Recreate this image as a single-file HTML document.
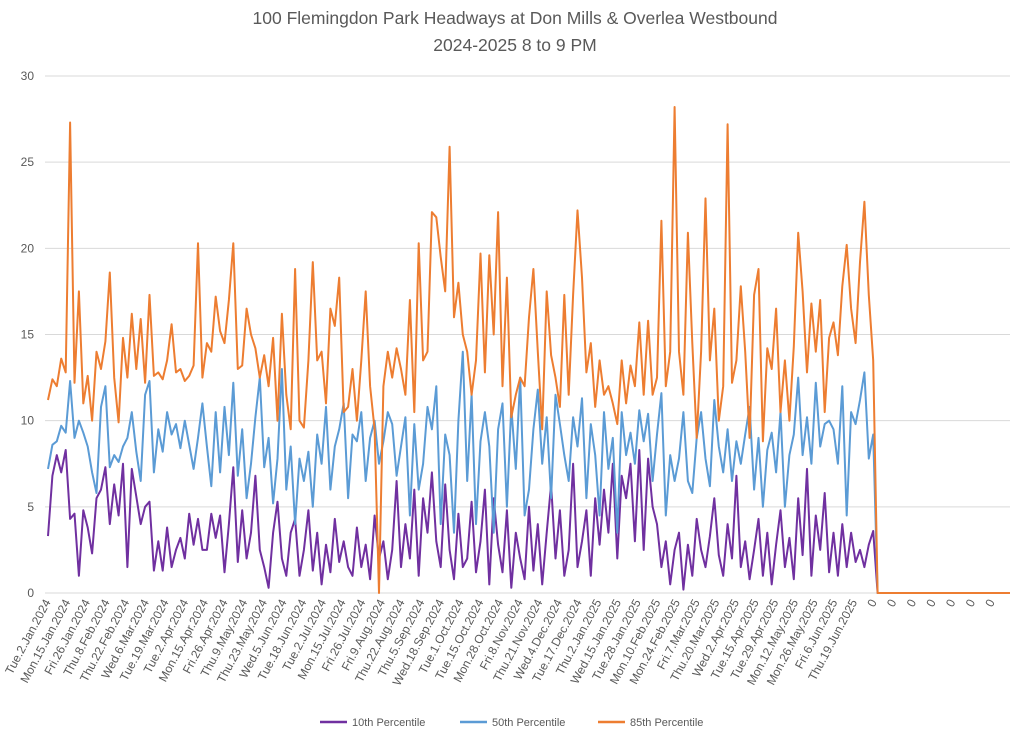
<!DOCTYPE html>
<html><head><meta charset="utf-8"><style>
body{margin:0;background:#fff;}
svg{display:block;font-family:"Liberation Sans",sans-serif;}
</style></head><body>
<svg id="chart" width="1024" height="735" viewBox="0 0 1024 735" xmlns="http://www.w3.org/2000/svg">
<text x="515" y="24" text-anchor="middle" font-size="17.5" fill="#595959">100 Flemingdon Park Headways at Don Mills &amp; Overlea Westbound</text>
<text x="515" y="51" text-anchor="middle" font-size="17.5" fill="#595959">2024-2025 8 to 9 PM</text>
<g id="grid"></g><g id="yt"></g><g id="xt"></g><g id="series"></g>
<g>
<line x1="320" y1="722" x2="347" y2="722" stroke="#7030a0" stroke-width="2.5"/>
<text x="352" y="726" font-size="11" fill="#595959">10th Percentile</text>
<line x1="460" y1="722" x2="487" y2="722" stroke="#5b9bd5" stroke-width="2.5"/>
<text x="492" y="726" font-size="11" fill="#595959">50th Percentile</text>
<line x1="598" y1="722" x2="625" y2="722" stroke="#ed7d31" stroke-width="2.5"/>
<text x="630" y="726" font-size="11" fill="#595959">85th Percentile</text>
</g>
</svg>
<script>
const yTicks=[0,5,10,15,20,25,30];
const xLabels=["Tue.2.Jan.2024","Mon.15.Jan.2024","Fri.26.Jan.2024","Thu.8.Feb.2024","Thu.22.Feb.2024","Wed.6.Mar.2024","Tue.19.Mar.2024","Tue.2.Apr.2024","Mon.15.Apr.2024","Fri.26.Apr.2024","Thu.9.May.2024","Thu.23.May.2024","Wed.5.Jun.2024","Tue.18.Jun.2024","Tue.2.Jul.2024","Mon.15.Jul.2024","Fri.26.Jul.2024","Fri.9.Aug.2024","Thu.22.Aug.2024","Thu.5.Sep.2024","Wed.18.Sep.2024","Tue.1.Oct.2024","Tue.15.Oct.2024","Mon.28.Oct.2024","Fri.8.Nov.2024","Thu.21.Nov.2024","Wed.4.Dec.2024","Tue.17.Dec.2024","Thu.2.Jan.2025","Wed.15.Jan.2025","Tue.28.Jan.2025","Mon.10.Feb.2025","Mon.24.Feb.2025","Fri.7.Mar.2025","Thu.20.Mar.2025","Wed.2.Apr.2025","Tue.15.Apr.2025","Tue.29.Apr.2025","Mon.12.May.2025","Mon.26.May.2025","Fri.6.Jun.2025","Thu.19.Jun.2025","0","0","0","0","0","0","0"];
const p10=[3.3,6.8,8.0,7.0,8.3,4.3,4.6,1.0,4.8,3.8,2.3,5.5,6.0,7.3,4.0,6.3,4.5,7.5,1.5,7.2,5.6,4.0,5.0,5.3,1.3,3.0,1.3,3.8,1.5,2.5,3.2,2.0,4.6,2.8,4.3,2.5,2.5,4.6,3.2,4.5,1.2,4.0,7.3,1.8,4.8,2.0,3.5,6.8,2.5,1.5,0.3,3.5,5.3,2.0,1.0,3.5,4.3,1.0,2.5,4.8,1.3,3.5,0.5,2.8,1.2,4.3,1.8,3.0,1.5,1.0,3.8,1.5,2.8,0.8,4.5,2.0,3.0,0.8,2.5,6.5,1.5,4.0,2.0,6.0,1.0,5.5,3.5,7.0,3.0,1.5,6.3,2.5,0.8,4.6,1.5,2.0,5.3,1.2,3.0,6.0,0.5,5.5,2.8,1.2,4.8,0.3,3.5,2.0,0.8,5.0,1.3,4.0,0.5,3.5,6.3,2.0,4.8,1.0,2.5,7.5,1.5,3.0,4.8,1.0,5.5,2.8,6.0,3.5,7.5,2.0,6.8,5.5,7.5,3.0,8.3,2.5,7.8,5.0,4.0,1.5,3.0,0.5,2.5,3.5,0.2,2.8,1.0,4.3,2.5,1.5,3.3,5.5,2.2,1.0,4.0,2.0,6.8,1.5,3.0,0.8,2.5,4.3,1.0,3.5,0.5,2.8,4.8,1.5,3.2,0.8,5.5,2.2,7.2,1.0,4.5,2.5,5.8,1.2,3.5,1.0,4.0,1.5,3.5,1.8,2.5,1.5,2.8,3.6,0,0,0,0,0,0,0,0,0,0,0,0,0,0,0,0,0,0,0,0,0,0,0,0,0,0,0,0,0,0,0];
const p50=[7.2,8.6,8.8,9.7,9.3,12.3,9.0,10.0,9.3,8.5,7.0,5.8,10.8,12.0,7.3,8.0,7.6,8.5,9.0,10.5,8.2,6.5,11.5,12.3,7.0,9.5,8.2,10.5,9.2,9.8,8.4,10.0,8.6,7.2,9.0,11.0,8.5,6.2,10.5,7.0,10.8,8.0,12.2,6.8,9.5,5.5,7.5,10.2,12.5,7.3,9.0,5.2,7.8,13.0,6.0,8.5,4.0,7.8,6.5,8.2,5.0,9.2,7.5,10.8,6.0,8.5,9.5,11.0,5.5,9.2,8.8,10.5,6.5,9.0,10.0,7.5,8.8,10.5,9.8,6.8,8.5,10.2,4.5,9.8,6.0,7.5,10.8,9.5,12.0,4.0,9.2,8.0,3.5,10.0,14.0,6.5,11.5,4.0,8.8,10.5,8.5,3.5,9.5,11.0,5.0,10.8,7.2,12.5,4.5,6.0,9.5,11.8,7.5,10.2,5.5,11.5,9.8,8.0,6.5,10.2,8.5,11.3,5.5,9.8,8.0,4.5,10.5,7.2,9.0,3.5,10.5,8.0,9.3,7.5,10.6,8.8,10.4,6.5,9.2,11.6,4.5,8.0,6.5,7.8,10.5,6.5,5.8,9.0,10.5,7.8,6.2,11.2,8.5,7.0,9.5,6.5,8.8,7.5,9.2,10.8,6.0,9.0,5.0,8.3,9.3,7.0,10.5,5.0,8.0,9.2,12.5,8.0,10.2,7.5,12.2,8.5,9.8,10.0,9.5,7.5,12.0,4.5,10.5,9.8,11.2,12.8,7.8,9.2,0,0,0,0,0,0,0,0,0,0,0,0,0,0,0,0,0,0,0,0,0,0,0,0,0,0,0,0,0,0,0];
const p85=[11.2,12.4,12.0,13.6,12.8,27.3,12.2,17.5,11.0,12.6,10.0,14.0,13.0,14.6,18.6,12.5,9.9,14.8,12.5,16.2,13.0,15.9,12.2,17.3,12.6,12.8,12.4,13.5,15.6,12.8,13.0,12.3,12.6,13.2,20.3,12.5,14.5,14.0,17.2,15.2,14.5,17.0,20.3,13.0,13.2,16.5,15.0,14.2,12.5,13.8,12.0,14.8,10.0,16.2,11.5,9.5,18.8,10.0,9.6,13.5,19.2,13.5,14.0,11.0,16.5,15.5,18.3,10.5,10.8,13.0,10.0,13.5,17.5,12.0,9.5,0,12.0,14.0,12.5,14.2,13.0,11.5,17.0,10.5,20.3,13.5,14.0,22.1,21.8,19.5,17.5,25.9,16.0,18.0,15.0,14.0,11.5,13.5,19.7,12.8,19.6,15.0,22.1,12.0,18.3,10.2,11.5,12.5,12.0,16.0,18.8,14.0,9.5,17.5,13.8,12.5,10.8,17.3,11.5,17.3,22.2,18.3,12.8,14.5,10.8,13.5,11.5,12.0,11.0,9.8,13.5,11.0,13.2,12.0,15.7,11.5,15.8,11.5,12.5,21.6,12.0,14.0,28.2,14.0,11.5,20.9,14.5,9.0,14.0,22.9,13.5,16.5,10.0,12.0,27.2,12.2,13.5,17.8,14.0,9.0,17.3,18.8,8.8,14.2,13.0,16.5,10.5,13.5,10.0,14.3,20.9,17.5,12.8,16.8,14.0,17.0,10.5,14.8,15.7,13.8,17.8,20.2,16.5,14.5,19.2,22.7,17.3,13.5,0,0,0,0,0,0,0,0,0,0,0,0,0,0,0,0,0,0,0,0,0,0,0,0,0,0,0,0,0,0,0];

const NS='http://www.w3.org/2000/svg';
const X0=48,X1=1010,Y0=593,Y30=76;
const yS=v=>Y0-(v/30)*(Y0-Y30);
const xS=(i,n)=>X0+i*(X1-X0)/(n-1);
const lblX=k=>51+k*19.67;
function mk(tag,attrs,parent){const e=document.createElementNS(NS,tag);for(const k in attrs)e.setAttribute(k,attrs[k]);parent.appendChild(e);return e;}
const grid=document.getElementById('grid'),yt=document.getElementById('yt'),xt=document.getElementById('xt'),ser=document.getElementById('series');
yTicks.forEach(v=>{
 const l=mk('line',{x1:X0-3,x2:X1,y1:yS(v),y2:yS(v),stroke:'#d9d9d9','stroke-width':1},grid);
 
 
 const t=mk('text',{x:34,y:yS(v)+4,'text-anchor':'end','font-size':12,fill:'#595959'},yt);
 
 
 t.textContent=v;
});
xLabels.forEach((s,k)=>{
 const x=lblX(k),y=602;
 const t=mk('text',{x:x,y:y,'text-anchor':'end','font-size':12,fill:'#595959',transform:'rotate(-62 '+x+' '+y+')'},xt);
 
 
 t.textContent=s;
});
[[p10,'#7030a0','series-10th-percentile'],[p50,'#5b9bd5','series-50th-percentile'],[p85,'#ed7d31','series-85th-percentile']].forEach(([d,c,n])=>{
 const pts=d.map((v,i)=>xS(i,d.length).toFixed(1)+','+yS(v).toFixed(1)).join(' ');
 const p=mk('polyline',{points:pts,fill:'none',stroke:c,'stroke-width':2,'stroke-linejoin':'round'},ser);
 
 
});
</script>
</body></html>
